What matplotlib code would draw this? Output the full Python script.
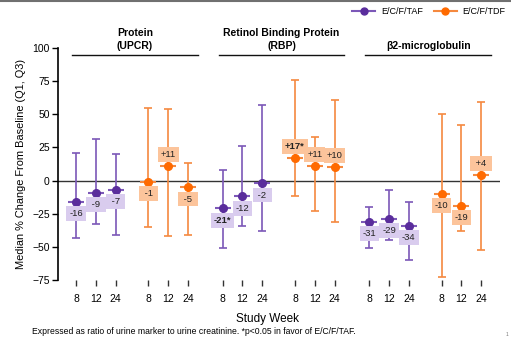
import numpy as np
import matplotlib
matplotlib.use("Agg")
import matplotlib.pyplot as plt
from matplotlib.lines import Line2D

plt.rcParams['font.family'] = ['Liberation Sans', 'DejaVu Sans']

# datos
semanas = ["8", "12", "24"]
grupos = ["Protein\n(UPCR)", "Retinol Binding Protein\n(RBP)", "\u03b22-microglobulin"]

taf_mediana = [[-16, -9, -7], [-21, -12, -2], [-31, -29, -34]]
taf_q1 = [[-43, -33, -41], [-51, -34, -38], [-51, -45, -60]]
taf_q3 = [[21, 31, 20], [8, 26, 57], [-20, -7, -16]]
taf_etiquetas = [["-16", "-9", "-7"], ["-21*", "-12", "-2"], ["-31", "-29", "-34"]]

tdf_mediana = [[-1, 11, -5], [17, 11, 10], [-10, -19, 4]]
tdf_q1 = [[-35, -42, -41], [-12, -23, -31], [-73, -38, -52]]
tdf_q3 = [[55, 54, 13], [76, 33, 61], [50, 42, 59]]
tdf_etiquetas = [["-1", "+11", "-5"], ["+17*", "+11", "+10"], ["-10", "-19", "+4"]]

morado, morado_claro, morado_caja = "#5a2d9c", "#7c58b8", "#d9ccee"
naranja, naranja_claro, naranja_caja = "#ff6a00", "#f5893f", "#fcc49b"

fig = plt.figure(figsize=(5.11, 3.39), dpi=100)
ax = fig.add_axes([58/511, 1-280/339, 442/511, 232/339])

paso_grupo = 7.4
desplaz_tdf = 3.65
xs_todos = []


def dibujar(x, med, q1, q3, etiquetas, c, c_claro, c_caja):
    med = np.array(med, dtype=float)
    err = [med - np.array(q1), np.array(q3) - med]
    ax.errorbar(x, med, yerr=err, fmt='none', ecolor=c_claro, elinewidth=1.2,
                capsize=2.6, capthick=1.2, zorder=2)
    ax.plot(x, med, '_', color=c_claro, markersize=12, mew=1.5, zorder=3)
    ax.plot(x, med, 'o', color=c, markersize=5.5, zorder=4)
    for xi, mi, et in zip(x, med, etiquetas):
        arriba = et.startswith("+")
        negrita = et.endswith("*")
        texto = et if len(et.strip("*")) > 2 else " " + et + " "
        ax.annotate(texto, (xi, mi), xytext=(0, 8.5 if arriba else -8.5),
                    textcoords='offset points', ha='center', va='center',
                    fontsize=6.8, fontweight='bold' if negrita else 'normal',
                    color='#222222', zorder=5,
                    bbox=dict(boxstyle='square,pad=0.3', fc=c_caja, ec='none'))


for g in range(3):
    x_taf = g*paso_grupo + np.arange(3)
    x_tdf = x_taf + desplaz_tdf
    dibujar(x_taf, taf_mediana[g], taf_q1[g], taf_q3[g], taf_etiquetas[g],
            morado, morado_claro, morado_caja)
    dibujar(x_tdf, tdf_mediana[g], tdf_q1[g], tdf_q3[g], tdf_etiquetas[g],
            naranja, naranja_claro, naranja_caja)
    xs_todos += list(x_taf) + list(x_tdf)
    # encabezado del grupo
    x0, x1 = x_taf[0] - 0.2, x_tdf[-1] + 0.5
    ax.plot([x0, x1], [94.7, 94.7], color='#111111', lw=1, clip_on=False)
    ax.annotate(grupos[g], ((x0 + x1)/2, 94.7), xytext=(0, 3), textcoords='offset points',
                ha='center', va='bottom', fontsize=7.5, fontweight='bold',
                linespacing=1.3, annotation_clip=False)

ax.axhline(0, color='#333333', lw=1, zorder=1)
ax.set_xlim(-0.91, 21.4)
ax.set_ylim(-75, 100)
ax.set_yticks([-75, -50, -25, 0, 25, 50, 75, 100])
ax.set_xticks(xs_todos)
ax.set_xticklabels(semanas*6)
ax.tick_params(axis='x', length=4, width=1, pad=6, labelsize=7.5, color='#333333')
ax.tick_params(axis='y', length=4, width=1, pad=2, labelsize=7.5)
for s in ['top', 'right', 'bottom']:
    ax.spines[s].set_visible(False)
ax.spines['left'].set_linewidth(1.2)
ax.set_ylabel("Median % Change From Baseline (Q1, Q3)", fontsize=7.9, labelpad=4)

fig.text(267/511, 1-319/339, "Study Week", ha='center', va='center', fontsize=8.5)
fig.text(32/511, 1-331/339,
         "Expressed as ratio of urine marker to urine creatinine. *p<0.05 in favor of E/C/F/TAF.",
         ha='left', va='center', fontsize=6.2)
fig.text(506/511, 1-335/339, "1", ha='left', va='center', fontsize=3.5, color='#777777')

# leyenda
manejadores = [Line2D([], [], color=morado_claro, lw=1.5, marker='o', markersize=5,
                      markerfacecolor=morado, markeredgecolor=morado),
               Line2D([], [], color=naranja_claro, lw=1.5, marker='o', markersize=5,
                      markerfacecolor=naranja, markeredgecolor=naranja)]
fig.legend(manejadores, ["E/C/F/TAF", "E/C/F/TDF"], loc='center right',
           bbox_to_anchor=(1.005, 1-12/339), ncol=2, frameon=False, fontsize=6.5,
           handlelength=2.6, columnspacing=1.2, handletextpad=0.6)

# linea gris superior
fig.add_artist(Line2D([0, 1], [1-1/339, 1-1/339], color='#707070', lw=1.5,
                      transform=fig.transFigure))

fig.savefig("out.png", dpi=100)
